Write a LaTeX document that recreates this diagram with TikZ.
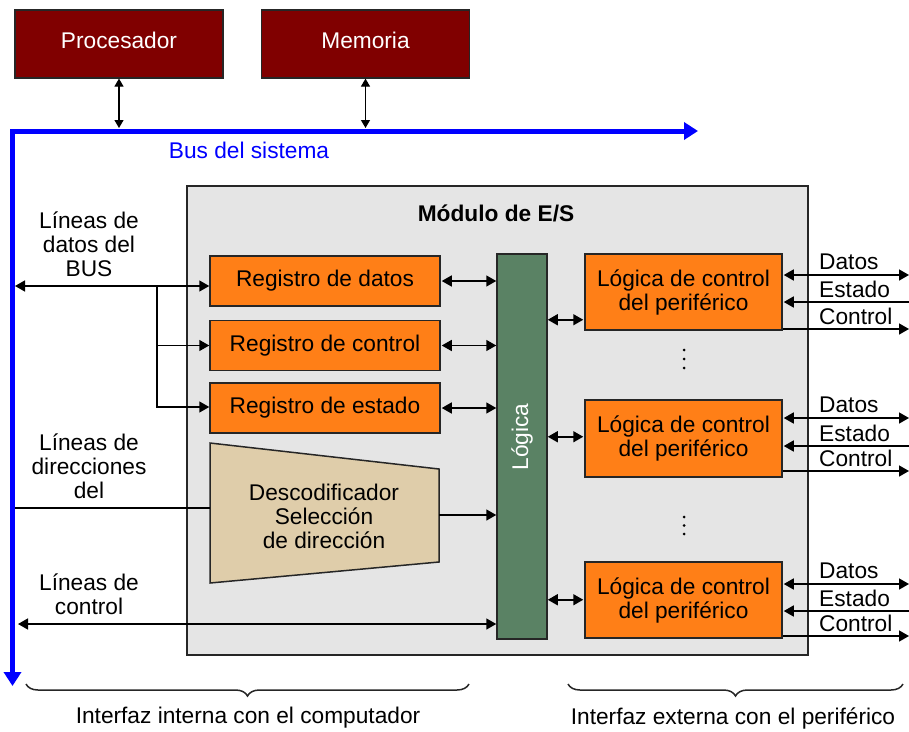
\documentclass[tikz,border=0pt]{standalone}
\usepackage{fontspec}
\setmainfont{Liberation Sans}
\usetikzlibrary{arrows.meta,decorations.pathreplacing,calc}
\definecolor{procred}{HTML}{800000}
\definecolor{orng}{HTML}{FF7F17}
\definecolor{logicgreen}{HTML}{5A8264}
\definecolor{modgray}{HTML}{E5E5E5}
\definecolor{tanfill}{HTML}{DFCDAA}
\definecolor{edgegray}{HTML}{262626}
\begin{document}
\begin{tikzpicture}[x=1pt,y=-1pt,
  font=\fontsize{22.7}{24}\selectfont,
  topbox/.style={draw=edgegray, line width=1.2pt, fill=procred, text=white,
    minimum width=208pt, minimum height=68pt, inner sep=0pt, text depth=8pt},
  regbox/.style={draw=edgegray, line width=1.5pt, fill=orng,
    minimum width=230pt, minimum height=50pt, inner sep=0pt},
  perbox/.style={draw=edgegray, line width=1.5pt, fill=orng,
    minimum width=197pt, minimum height=76pt, inner sep=0pt, align=center},
  conn/.style={line width=1.5pt, black},
  tip/.style={-{Triangle[length=10pt,width=11pt]}},
  rtip/.style={{Triangle[length=10pt,width=11pt]}-},
  dtip/.style={{Triangle[length=10pt,width=11pt]}-{Triangle[length=10pt,width=11pt]}},
  stip/.style={{Triangle[length=8pt,width=9pt]}-{Triangle[length=8pt,width=9pt]}},
  lbl/.style={align=center, inner sep=0pt},
  side/.style={anchor=west, inner sep=0pt},
  dotmark/.style={fill=black, radius=1.5pt},
  bracestyle/.style={decorate, decoration={brace, mirror, amplitude=12pt}, line width=1.5pt, edgegray},
]
\useasboundingbox (0,0) rectangle (909,731);

% top units
\node[topbox] (proc) at (119,44) {Procesador};
\node[topbox] (mem) at (365.5,44) {Memoria};

% system bus
\coordinate (busS) at (12.5,686);
\coordinate (busC) at (12.5,131);
\coordinate (busE) at (698,131);
\draw[blue, line width=5pt, miter limit=10,
  {Triangle[length=14pt,width=17pt]}-{Triangle[length=14pt,width=17pt]}]
  (busS) -- (busC) -- (busE);
\node[text=blue, inner sep=0pt] (buslbl) at (249,150) {Bus del sistema};

\coordinate (pbus) at (119,128);
\coordinate (mbus) at (365.5,128);
\draw[line width=1.2pt, stip] (proc.south) -- (pbus);
\draw[line width=1.2pt, stip] (mem.south) -- (mbus);

% module
\node[draw=edgegray, fill=modgray, line width=1.5pt, minimum width=621pt,
  minimum height=469pt, inner sep=0pt] (mod) at (497.5,420.5) {};
\node[inner sep=0pt, font=\fontsize{22.7}{24}\selectfont\bfseries] (title) at (496,213) {Módulo de E/S};

% registers
\node[regbox] (rd) at (325,281) {Registro de datos};
\node[regbox] (rc) at (325,345.5) {Registro de control};
\node[regbox] (re) at (325,408) {Registro de estado};

% logic
\node[draw=edgegray, fill=logicgreen, line width=1.5pt, minimum width=50pt,
  minimum height=385pt, inner sep=0pt] (lg) at (522,446.5) {};
\node[rotate=90, text=white, inner sep=0pt] (lgtext) at (522,437) {Lógica};

% decoder
\coordinate (d1) at (210,443);
\coordinate (d2) at (439,469);
\coordinate (d3) at (439,562);
\coordinate (d4) at (210,583);
\draw[draw=edgegray, fill=tanfill, line width=1.5pt] (d1) -- (d2) -- (d3) -- (d4) -- cycle;
\node[lbl] (dec) at (324,516) {Descodificador\\Selección\\de dirección};
\coordinate (decL) at (210,508);
\coordinate (decR) at (439,515);

% peripheral logic boxes
\node[perbox] (p1) at (683.5,292) {Lógica de control\\del periférico};
\node[perbox, minimum height=77pt] (p2) at (683.5,438.5) {Lógica de control\\del periférico};
\node[perbox] (p3) at (683.5,600) {Lógica de control\\del periférico};

% vertical ellipses
\foreach \yy in {350,359,368,517,525.5,534}{
  \fill[dotmark] (684,\yy) circle;
}

% left labels
\node[lbl] (l1) at (89,244) {Líneas de\\datos del\\BUS};
\node[lbl] (l2) at (89,466) {Líneas de\\direcciones\\del};
\node[lbl] (l3) at (89,594) {Líneas de\\control};

% data lines from bus
\coordinate (dbus) at (15,286);
\coordinate (br) at (157,286);
\draw[conn, dtip] (dbus) -- ($(rd.west)+(0,5)$);
\draw[conn, tip] (br) |- (rc.west);
\draw[conn, tip] (br) |- ($(re.west)+(0,-1)$);

% registers to logic
\draw[conn, dtip] ($(rd.east)+(1,0)$) -- (rd.east -| lg.west);
\draw[conn, dtip] ($(rc.east)+(1,0)$) -- (rc.east -| lg.west);
\draw[conn, dtip] ($(re.east)+(1,0)$) -- (re.east -| lg.west);

% address lines
\coordinate (abus) at (15,508);
\draw[conn] (abus) -- (decL);
\draw[conn, tip] (decR) -- (decR -| lg.west);

% control lines
\coordinate (cbus) at (18,624);
\draw[conn, dtip] (cbus) -- (cbus -| lg.west);

% logic to peripheral boxes
\coordinate (q1) at ($(p1.south west)+(-1,-11)$);
\coordinate (q2) at ($(p2.south west)+(-1,-41)$);
\coordinate (q3) at ($(p3.south west)+(-1,-39)$);
\draw[conn, dtip] (q1 -| lg.east) -- (q1);
\draw[conn, dtip] (q2 -| lg.east) -- (q2);
\draw[conn, dtip] (q3 -| lg.east) -- (q3);

% external lines
\foreach \b/\yd/\ye/\yc in {p1/275/302/329, p2/418/446/471, p3/584/611/636}{
  \coordinate (\b d) at (909,\yd);
  \coordinate (\b e) at (909,\ye);
  \coordinate (\b c) at (909,\yc);
  \draw[conn, dtip] ($(\b.east |- \b d)+(1,0)$) -- (\b d);
  \draw[conn, rtip] ($(\b.east |- \b e)+(1,0)$) -- (\b e);
  \draw[conn, tip] (\b.east |- \b c) -- (\b c);
  \node[side] at ($(\b d)+(-90,-13)$) {Datos};
  \node[side] at ($(\b e)+(-90,-13)$) {Estado};
  \node[side] at ($(\b c)+(-90,-13)$) {Control};
}

% braces
\coordinate (bl1) at (26,684);
\coordinate (bl2) at (469,684);
\coordinate (br1) at (568,684);
\coordinate (br2) at (903,684);
\draw[bracestyle] (bl1) -- (bl2);
\draw[bracestyle] (br1) -- (br2);
\node[inner sep=0pt] (intl) at (248,718) {Interfaz interna con el computador};
\node[inner sep=0pt] (extl) at (733,718) {Interfaz externa con el periférico};
\end{tikzpicture}
\end{document}
